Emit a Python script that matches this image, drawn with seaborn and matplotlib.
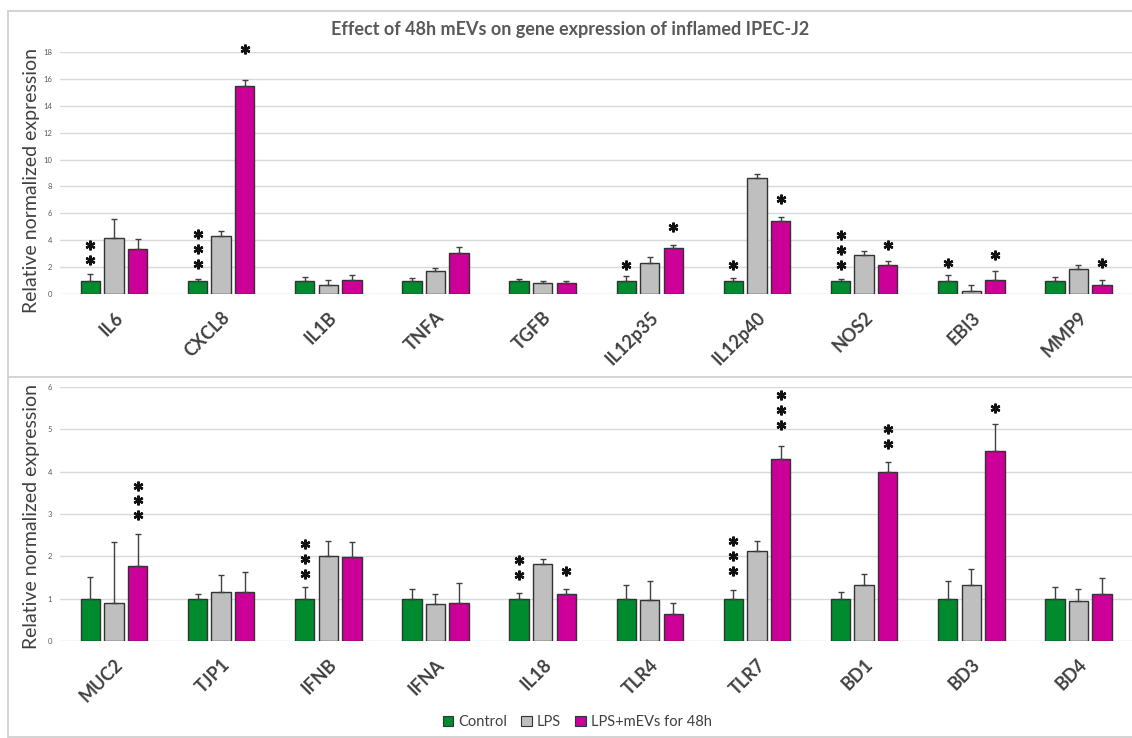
import matplotlib
matplotlib.use("Agg")
import matplotlib.pyplot as plt
import matplotlib.transforms as mtransforms
from matplotlib.patches import Patch
from matplotlib.lines import Line2D
import seaborn as sns
import pandas as pd

groups = ["Control", "LPS", "LPS+mEVs for 48h"]
colors = ["#008B2E", "#BFBFBF", "#CC0099"]

genes_top = ["IL6", "CXCL8", "IL1B", "TNFA", "TGFB", "IL12p35", "IL12p40", "NOS2", "EBI3", "MMP9"]
ctrl_top = [1.0, 1.0, 1.0, 1.0, 1.0, 1.0, 1.0, 1.0, 1.0, 1.0]
ctrl_top_err = [0.49, 0.12, 0.26, 0.19, 0.12, 0.34, 0.19, 0.14, 0.39, 0.26]
lps_top = [4.14, 4.31, 0.67, 1.69, 0.79, 2.31, 8.63, 2.88, 0.22, 1.86]
lps_top_err = [1.46, 0.40, 0.37, 0.24, 0.15, 0.47, 0.30, 0.32, 0.45, 0.32]
mevs_top = [3.32, 15.45, 1.04, 3.05, 0.84, 3.40, 5.46, 2.18, 1.04, 0.67]
mevs_top_err = [0.77, 0.47, 0.40, 0.47, 0.15, 0.25, 0.27, 0.27, 0.67, 0.37]

genes_bottom = ["MUC2", "TJP1", "IFNB", "IFNA", "IL18", "TLR4", "TLR7", "BD1", "BD3", "BD4"]
ctrl_bottom = [1.0, 1.0, 1.0, 1.0, 1.0, 1.0, 1.0, 1.0, 1.0, 1.0]
ctrl_bottom_err = [0.52, 0.12, 0.27, 0.22, 0.14, 0.32, 0.20, 0.16, 0.42, 0.28]
lps_bottom = [0.90, 1.16, 2.00, 0.87, 1.82, 0.98, 2.12, 1.32, 1.32, 0.95]
lps_bottom_err = [1.44, 0.40, 0.36, 0.23, 0.11, 0.44, 0.25, 0.27, 0.39, 0.27]
mevs_bottom = [1.78, 1.16, 1.99, 0.90, 1.12, 0.64, 4.30, 4.00, 4.50, 1.11]
mevs_bottom_err = [0.75, 0.46, 0.35, 0.46, 0.12, 0.26, 0.31, 0.24, 0.63, 0.37]

# significance stars: (gene, group, number of stars, y of lowest star)
stars_top = [("IL6", "Control", 2, 2.53), ("CXCL8", "Control", 3, 2.23),
             ("CXCL8", "LPS+mEVs for 48h", 1, 18.25), ("IL12p35", "Control", 1, 2.18),
             ("IL12p35", "LPS+mEVs for 48h", 1, 4.96), ("IL12p40", "Control", 1, 2.13),
             ("IL12p40", "LPS+mEVs for 48h", 1, 7.07), ("NOS2", "Control", 3, 2.16),
             ("NOS2", "LPS+mEVs for 48h", 1, 3.64), ("EBI3", "Control", 1, 2.31),
             ("EBI3", "LPS+mEVs for 48h", 1, 2.90), ("MMP9", "LPS+mEVs for 48h", 1, 2.33)]
stars_bottom = [("MUC2", "LPS+mEVs for 48h", 3, 2.97), ("IFNB", "Control", 3, 1.58),
                ("IL18", "Control", 2, 1.56), ("IL18", "LPS+mEVs for 48h", 1, 1.65),
                ("TLR7", "Control", 3, 1.65), ("TLR7", "LPS+mEVs for 48h", 3, 5.10),
                ("BD1", "LPS+mEVs for 48h", 2, 4.66), ("BD3", "LPS+mEVs for 48h", 1, 5.51)]

sns.set_theme(style="white")
plt.rcParams["font.family"] = ["Lato", "DejaVu Sans"]

fig = plt.figure(figsize=(11.32, 7.38), dpi=100)
W, H = 1132, 738

def make_df(genes, vals, errs):
    rows = []
    for g, v, e in zip(groups, vals, errs):
        for gene, vv, ee in zip(genes, v, e):
            rows.append({"gene": gene, "group": g, "value": vv, "err": ee})
    return pd.DataFrame(rows)

df_top = make_df(genes_top, [ctrl_top, lps_top, mevs_top], [ctrl_top_err, lps_top_err, mevs_top_err])
df_bot = make_df(genes_bottom, [ctrl_bottom, lps_bottom, mevs_bottom],
                 [ctrl_bottom_err, lps_bottom_err, mevs_bottom_err])

def panel(rect, df, genes, ymax, step, stars, label_y):
    ax = fig.add_axes(rect)
    sns.barplot(data=df, x="gene", y="value", hue="group", order=genes, hue_order=groups,
                palette=colors, width=0.66, gap=0.18, edgecolor="#333333", linewidth=1.0,
                errorbar=None, legend=False, saturation=1, ax=ax)
    ax.set_xlim(-0.5, len(genes) - 0.5)
    ax.set_ylim(0, ymax)
    ax.set_yticks(range(0, ymax + 1, step))
    ax.grid(axis="y", color="#D9D9D9", lw=1.0)
    ax.set_axisbelow(True)
    for s in ax.spines.values():
        s.set_visible(False)
    ax.tick_params(axis="y", labelsize=5.5, labelcolor="#595959", length=0, pad=6)
    ax.tick_params(axis="x", length=0, pad=15)
    ax.set_xticks(range(len(genes)))
    ax.set_xticklabels(genes, rotation=45, ha="right", va="center", rotation_mode="anchor",
                       fontsize=13, fontweight="bold", color="#404040")
    shift = mtransforms.ScaledTranslation(0.06, 0, fig.dpi_scale_trans)
    for lab in ax.get_xticklabels():
        lab.set_transform(lab.get_transform() + shift)
    ax.set_xlabel("")
    ax.set_ylabel("Relative normalized expression", fontsize=14, color="#404040")
    ax.yaxis.set_label_coords(-0.019, label_y)

    bar_containers = list(ax.containers)[:len(groups)]
    centers = {}
    for gi, cont in enumerate(bar_containers):
        sub = df[df.group == groups[gi]].set_index("gene").loc[genes]
        xs = [p.get_x() + p.get_width() / 2 for p in cont.patches]
        for gene, x in zip(genes, xs):
            centers[(gene, groups[gi])] = x
        ax.errorbar(xs, sub["value"], yerr=[[0] * len(genes), sub["err"]], fmt="none",
                    ecolor="#404040", elinewidth=1.0, capsize=2.2, capthick=1.0, zorder=3)

    for gene, grp, n, y in stars:
        x = centers[(gene, grp)]
        for k in range(n):
            tr = mtransforms.offset_copy(ax.transData, fig=fig, y=k * 10.7, units="points")
            ax.plot([x], [y], marker=(6, 2, 0), ms=7, mew=1.7, color="#111111",
                    ls="none", transform=tr, clip_on=False, zorder=4)
    return ax

left = 60.4 / W
width = 1 - left
ax_top = panel([left, 1 - 294 / H, width, (294 - 52) / H], df_top, genes_top, 18, 2, stars_top, 0.467)
ax_bot = panel([left, 1 - 641 / H, width, (641 - 387) / H], df_bot, genes_bottom, 6, 1, stars_bottom, 0.49)

fig.text(570 / W, 1 - 30 / H, "Effect of 48h mEVs on gene expression of inflamed IPEC-J2",
         ha="center", va="center", fontsize=13, fontweight="bold", color="#595959")

# chart-area frames
frame_kw = dict(color="#D0D0D0", lw=1.3, transform=fig.transFigure)
for (x0, y0, x1, y1) in [(8, 11, W, 11), (8, 377, W, 377), (8, 737, W, 737), (8, 11, 8, 737)]:
    fig.add_artist(Line2D([x0 / W, x1 / W], [1 - y0 / H, 1 - y1 / H], **frame_kw))

handles = [Patch(facecolor=c, edgecolor="#333333", lw=0.8, label=g) for c, g in zip(colors, groups)]
leg = fig.legend(handles=handles, loc="center", bbox_to_anchor=(577 / W, 1 - 722 / H), ncol=3,
                 frameon=False, fontsize=10.5, handlelength=0.75, handleheight=0.75,
                 handletextpad=0.3, columnspacing=1.0)
for t in leg.get_texts():
    t.set_color("#404040")

fig.savefig("out.png", dpi=100)
